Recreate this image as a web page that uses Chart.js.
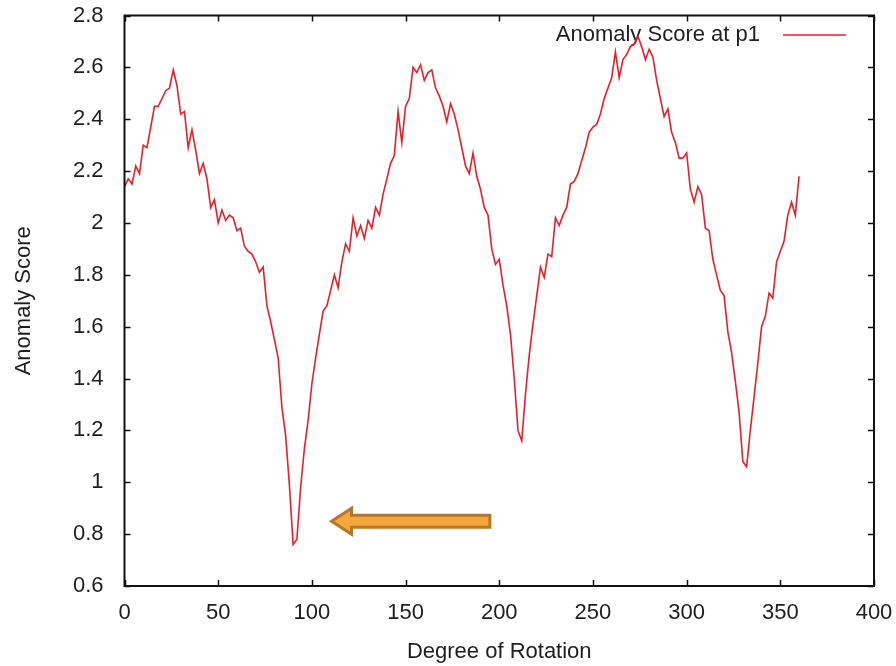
<!DOCTYPE html>
<html>
<head>
<meta charset="utf-8">
<title>Anomaly Score at p1</title>
<script src="https://cdn.jsdelivr.net/npm/chart.js@4.4.1/dist/chart.umd.min.js"></script>
<style>
    html, body { margin: 0; padding: 0; background: #ffffff; }
    #chart { display: block; }
</style>
</head>
<body>
<canvas id="chart" width="896" height="666"></canvas>
<script>
"use strict";

// Values, every 2 degrees
const degrees = [
    0, 2, 4, 6, 8, 10, 12, 14, 16, 18, 20, 22, 24, 26, 28, 30, 32, 34, 36, 38,
    40, 42, 44, 46, 48, 50, 52, 54, 56, 58, 60, 62, 64, 66, 68, 70, 72, 74, 76, 78,
    80, 82, 84, 86, 88, 90, 92, 94, 96, 98, 100, 102, 104, 106, 108, 110, 112, 114, 116, 118,
    120, 122, 124, 126, 128, 130, 132, 134, 136, 138, 140, 142, 144, 146, 148, 150, 152, 154, 156, 158,
    160, 162, 164, 166, 168, 170, 172, 174, 176, 178, 180, 182, 184, 186, 188, 190, 192, 194, 196, 198,
    200, 202, 204, 206, 208, 210, 212, 214, 216, 218, 220, 222, 224, 226, 228, 230, 232, 234, 236, 238,
    240, 242, 244, 246, 248, 250, 252, 254, 256, 258, 260, 262, 264, 266, 268, 270, 272, 274, 276, 278,
    280, 282, 284, 286, 288, 290, 292, 294, 296, 298, 300, 302, 304, 306, 308, 310, 312, 314, 316, 318,
    320, 322, 324, 326, 328, 330, 332, 334, 336, 338, 340, 342, 344, 346, 348, 350, 352, 354, 356, 358,
    360
];
const anomalyScore = [
    2.14, 2.17, 2.15, 2.22, 2.19, 2.30, 2.29, 2.37, 2.45, 2.45, 2.48, 2.51, 2.52, 2.59, 2.53, 2.42, 2.43, 2.29, 2.36, 2.28,
    2.19, 2.23, 2.17, 2.06, 2.09, 2.00, 2.05, 2.01, 2.03, 2.02, 1.97, 1.98, 1.91, 1.89, 1.88, 1.85, 1.81, 1.83, 1.68, 1.62,
    1.55, 1.48, 1.29, 1.18, 0.99, 0.76, 0.78, 0.98, 1.13, 1.24, 1.38, 1.48, 1.57, 1.66, 1.68, 1.74, 1.80, 1.75, 1.85, 1.92,
    1.89, 2.02, 1.95, 1.99, 1.94, 2.01, 1.98, 2.06, 2.03, 2.11, 2.17, 2.23, 2.26, 2.43, 2.31, 2.45, 2.48, 2.60, 2.58, 2.61,
    2.55, 2.58, 2.59, 2.52, 2.49, 2.45, 2.39, 2.46, 2.42, 2.36, 2.29, 2.22, 2.19, 2.27, 2.18, 2.13, 2.06, 2.03, 1.90, 1.84,
    1.86, 1.76, 1.68, 1.57, 1.40, 1.20, 1.16, 1.34, 1.49, 1.61, 1.72, 1.83, 1.79, 1.88, 1.87, 2.02, 1.99, 2.03, 2.06, 2.15,
    2.16, 2.19, 2.24, 2.29, 2.35, 2.37, 2.38, 2.42, 2.48, 2.52, 2.56, 2.66, 2.56, 2.63, 2.65, 2.68, 2.69, 2.72, 2.68, 2.63,
    2.67, 2.64, 2.55, 2.48, 2.41, 2.44, 2.35, 2.31, 2.25, 2.25, 2.27, 2.13, 2.08, 2.14, 2.11, 1.98, 1.97, 1.86, 1.80, 1.74,
    1.72, 1.58, 1.50, 1.39, 1.27, 1.08, 1.06, 1.20, 1.33, 1.46, 1.60, 1.64, 1.73, 1.71, 1.85, 1.89, 1.93, 2.03, 2.08, 2.03,
    2.18
];

const xTickValues = [0, 50, 100, 150, 200, 250, 300, 350, 400];
const yTickValues = [0.6, 0.8, 1, 1.2, 1.4, 1.6, 1.8, 2, 2.2, 2.4, 2.6, 2.8];

const seriesLabel = 'Anomaly Score at p1';
const xTitle = 'Degree of Rotation';
const yTitle = 'Anomaly Score';

// Arrow pointing at the deepest dip (data coordinates)
const arrowTail = { x: 195, y: 0.85 };
const arrowTip = { x: 110.5, y: 0.85 };

var textColor = '#1e1e1e';
var lineColor = '#ee1c25';
var fontFamily = '"Liberation Sans", Arial, sans-serif';

// Frame with inward ticks on all four sides
const framePlugin = {
    id: 'frame',
    afterDatasetsDraw(chart) {
        const { ctx, chartArea: a, scales } = chart;
        const len = 6;
        ctx.save();
        ctx.strokeStyle = '#111111';
        ctx.lineWidth = 1.5;
        ctx.beginPath();
        xTickValues.forEach(v => {
            const px = Math.round(scales.x.getPixelForValue(v)) + 0.5;
            ctx.moveTo(px, a.bottom); ctx.lineTo(px, a.bottom - len);
            ctx.moveTo(px, a.top); ctx.lineTo(px, a.top + len);
        });
        yTickValues.forEach(v => {
            const py = Math.round(scales.y.getPixelForValue(v)) + 0.5;
            ctx.moveTo(a.left, py); ctx.lineTo(a.left + len, py);
            ctx.moveTo(a.right, py); ctx.lineTo(a.right - len, py);
        });
        ctx.stroke();
        ctx.lineWidth = 2;
        ctx.strokeRect(a.left, a.top, a.right - a.left, a.bottom - a.top);
        ctx.restore();
    }
};

// gnuplot style key: text first, then line sample
const keyPlugin = {
    id: 'key',
    beforeDatasetsDraw(chart) {
        const { ctx, chartArea: a } = chart;
        const ds = chart.data.datasets[0];
        const y = a.top + 19;
        ctx.save();
        ctx.font = '22px ' + fontFamily;
        ctx.fillStyle = textColor;
        ctx.textAlign = 'right';
        ctx.textBaseline = 'middle';
        ctx.fillText(ds.label, a.right - 114, y);
        ctx.strokeStyle = ds.borderColor;
        ctx.lineWidth = 1.5;
        ctx.beginPath();
        ctx.moveTo(a.right - 91, y + 0.5);
        ctx.lineTo(a.right - 28, y + 0.5);
        ctx.stroke();
        ctx.restore();
    }
};

const arrowPlugin = {
    id: 'arrow',
    afterDatasetsDraw(chart) {
        const { ctx, scales } = chart;
        const x0 = scales.x.getPixelForValue(arrowTip.x);
        const x1 = scales.x.getPixelForValue(arrowTail.x);
        const y = scales.y.getPixelForValue(arrowTip.y);
        const head = 20, headHalf = 13, bodyHalf = 6;
        ctx.save();
        ctx.beginPath();
        ctx.moveTo(x0, y);
        ctx.lineTo(x0 + head, y - headHalf);
        ctx.lineTo(x0 + head, y - bodyHalf);
        ctx.lineTo(x1, y - bodyHalf);
        ctx.lineTo(x1, y + bodyHalf);
        ctx.lineTo(x0 + head, y + bodyHalf);
        ctx.lineTo(x0 + head, y + headHalf);
        ctx.closePath();
        ctx.fillStyle = '#f4a73a';
        ctx.fill();
        ctx.lineWidth = 3;
        ctx.lineJoin = 'miter';
        ctx.strokeStyle = '#b7772b';
        ctx.stroke();
        ctx.restore();
    }
};

var InitChart = function () {
    const points = degrees.map((d, i) => ({ x: d, y: anomalyScore[i] }));

    Chart.defaults.font.family = fontFamily;
    Chart.defaults.font.size = 22;
    Chart.defaults.color = textColor;

    const config = {
        type: 'line',
        data: {
            datasets: [{
                label: seriesLabel,
                data: points,
                borderColor: lineColor,
                borderWidth: 1.6,
                pointRadius: 0,
                tension: 0,
                fill: false
            }]
        },
        options: {
            responsive: false,
            animation: false,
            devicePixelRatio: 1,
            layout: { padding: { top: 15.5, right: 22, left: 0, bottom: 0 } },
            plugins: {
                legend: { display: false },
                tooltip: { enabled: false }
            },
            scales: {
                x: {
                    type: 'linear',
                    min: 0,
                    max: 400,
                    afterBuildTicks: scale => { scale.ticks = xTickValues.map(v => ({ value: v })); },
                    afterFit: scale => {
                        scale.height = 80;
                        scale.paddingLeft = 0;
                        scale.paddingRight = 0;
                    },
                    grid: { display: false, drawTicks: false },
                    border: { display: false },
                    ticks: { padding: 14, maxRotation: 0, autoSkip: false },
                    title: { display: true, text: xTitle, padding: { top: 0, bottom: 1 } }
                },
                y: {
                    type: 'linear',
                    min: 0.6,
                    max: 2.8,
                    afterBuildTicks: scale => { scale.ticks = yTickValues.map(v => ({ value: v })); },
                    afterFit: scale => {
                        scale.width = 124.5;
                        scale.paddingTop = 0;
                        scale.paddingBottom = 0;
                    },
                    grid: { display: false, drawTicks: false },
                    border: { display: false },
                    ticks: { padding: 21, autoSkip: false, callback: v => String(+v.toFixed(1)) },
                    title: { display: true, text: yTitle, padding: { top: 11, bottom: 0 } }
                }
            }
        },
        plugins: [keyPlugin, framePlugin, arrowPlugin]
    };

    new Chart(document.getElementById('chart').getContext('2d'), config);
};

InitChart();
</script>
</body>
</html>
